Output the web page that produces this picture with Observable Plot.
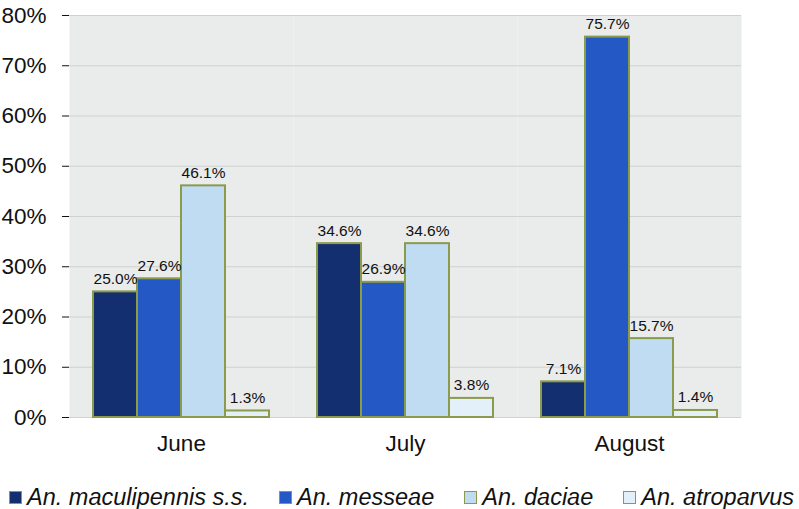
<!DOCTYPE html>
<html><head><meta charset="utf-8">
<script src="https://cdn.jsdelivr.net/npm/d3@7"></script>
<script src="https://cdn.jsdelivr.net/npm/@observablehq/plot@0.6"></script>
<style>
body{margin:0;background:#fff;font-family:"Liberation Sans",Arial,sans-serif;color:#111}
#legend{display:flex;align-items:center;margin:15px 0 0 9px;font-size:23.5px;font-style:italic;white-space:nowrap;line-height:24px}
.item{display:flex;align-items:center;margin-right:30px}
.sw{width:11px;height:11px;border:1.5px solid #8b9b4c;margin-right:5px}
</style>
</head><body><div id="chart"></div><div id="legend"></div><script>
const months = ["June","July","August"];
const species = ["An. maculipennis s.s.","An. messeae","An. daciae","An. atroparvus"];
const colors = ["#132f70","#2459c5","#bfdcf3","#e3eff9"];
const june = [25.0,27.6,46.1,1.3];
const july = [34.6,26.9,34.6,3.8];
const august = [7.1,75.7,15.7,1.4];
const yTicks = [0,10,20,30,40,50,60,70,80];

const series = [june, july, august];
const data = [];
months.forEach((m,i)=>species.forEach((s,j)=>data.push({month:m, species:s, value:series[i][j]})));

const chart = Plot.plot({
  width:799, height:470,
  marginLeft:68, marginRight:58, marginTop:15, marginBottom:53,
  style:{fontFamily:"'Liberation Sans',Arial,sans-serif", fontSize:"22.5px", color:"#111", background:"transparent", overflow:"visible"},
  fx:{domain:months, padding:0, label:null, axis:"bottom", tickSize:0, tickPadding:18},
  x:{domain:species, paddingInner:0, paddingOuter:0.49, axis:null},
  y:{domain:[0,80], ticks:yTicks, tickFormat:d=>d+"%", label:null, tickSize:7, tickPadding:16},
  color:{domain:species, range:colors},
  marks:[
    Plot.frame({fill:"#eaebeb", stroke:null}),
    Plot.gridY(yTicks,{stroke:"#cfd2d2", strokeOpacity:1}),
    Plot.barY(data,{fx:"month", x:"species", y:"value", fill:"species", stroke:"#8b9b4c", strokeWidth:2}),
    Plot.text(data,{fx:"month", x:"species", y:"value", text:d=>d.value.toFixed(1)+"%", dy:-8, lineAnchor:"bottom", fontSize:15.5, fill:"#111"})
  ]
});
document.getElementById("chart").appendChild(chart);

const legend = document.getElementById("legend");
species.forEach((s,i)=>{
  const it = document.createElement("div"); it.className="item";
  const sw = document.createElement("div"); sw.className="sw"; sw.style.background=colors[i];
  const t = document.createElement("span"); t.textContent=s;
  it.appendChild(sw); it.appendChild(t); legend.appendChild(it);
});
</script></body></html>
